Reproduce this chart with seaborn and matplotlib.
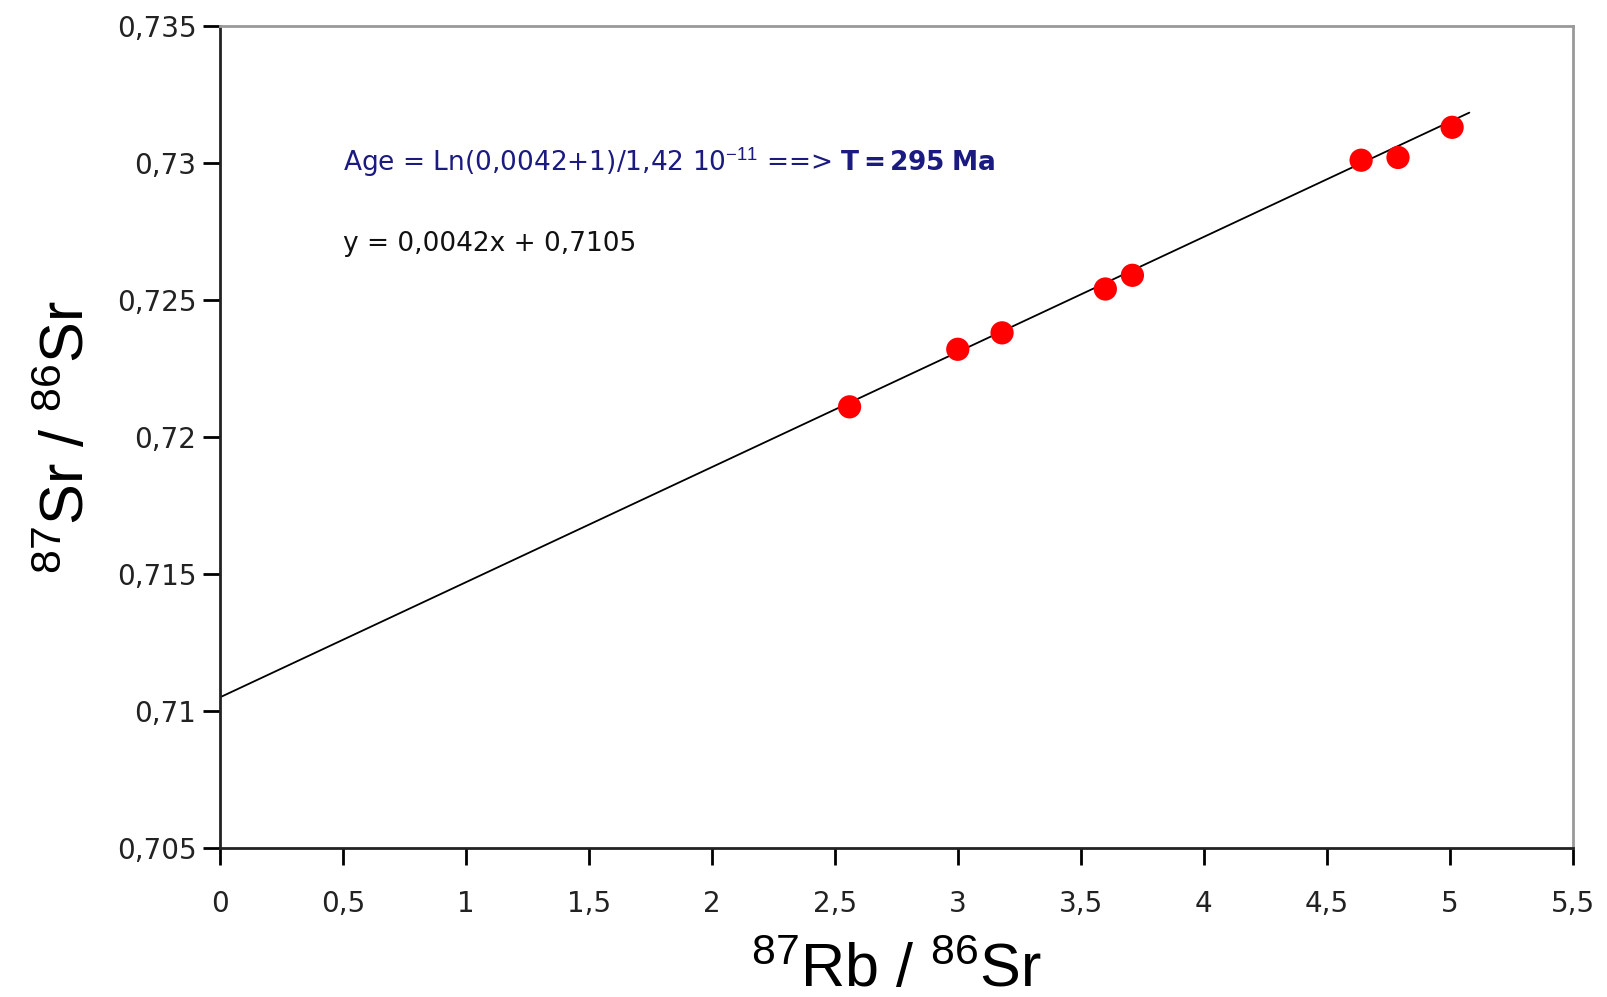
import numpy as np
import pandas as pd
import matplotlib
matplotlib.use("Agg")
import matplotlib.pyplot as plt
import seaborn as sns

# Data
rb_sr = [2.56, 3.00, 3.18, 3.60, 3.71, 4.64, 4.79, 5.01]
sr_sr = [0.7211, 0.7232, 0.7238, 0.7254, 0.7259, 0.7301, 0.7302, 0.7313]
slope = 0.0042
intercept = 0.7105
fit_x = [0.0, 5.08]
x_ticks = [0, 0.5, 1, 1.5, 2, 2.5, 3, 3.5, 4, 4.5, 5, 5.5]
y_ticks = [0.705, 0.71, 0.715, 0.72, 0.725, 0.73, 0.735]

sns.set_theme(style="white")
plt.rcParams['font.family'] = ['DejaVu Sans']
plt.rcParams['mathtext.fontset'] = 'custom'
plt.rcParams['mathtext.rm'] = 'Liberation Sans'
plt.rcParams['mathtext.it'] = 'Liberation Sans:italic'
plt.rcParams['mathtext.bf'] = 'DejaVu Sans:bold'

fig = plt.figure(figsize=(16.08, 9.97), dpi=100)
ax = fig.add_axes([0.1368, 0.1494, 0.978 - 0.1368, 0.974 - 0.1494])

df = pd.DataFrame({"x": rb_sr, "y": sr_sr})
fit = pd.DataFrame({"x": fit_x, "y": [slope * v + intercept for v in fit_x]})

sns.lineplot(data=fit, x="x", y="y", ax=ax, color="black", lw=1.3, zorder=2)
sns.scatterplot(data=df, x="x", y="y", ax=ax, color="#ff0000", s=280,
                edgecolor="none", zorder=3)

ax.set_xlim(0, 5.5)
ax.set_ylim(0.705, 0.735)

def comma(v):
    return ("%g" % v).replace(".", ",")

ax.set_xticks(x_ticks)
ax.set_xticklabels([comma(v) for v in x_ticks])
ax.set_yticks(y_ticks)
ax.set_yticklabels([comma(v) for v in y_ticks])
ax.tick_params(axis="both", which="major", direction="out", length=12, width=2,
               color="black", labelsize=20, labelcolor="#222222",
               left=True, bottom=True)
ax.tick_params(axis="x", pad=18)
ax.tick_params(axis="y", pad=5)

for side in ["left", "bottom"]:
    ax.spines[side].set_color("#222222")
    ax.spines[side].set_linewidth(2)
for side in ["top", "right"]:
    ax.spines[side].set_color("#999999")
    ax.spines[side].set_linewidth(2)

ax.set_xlabel(r"$^{87}$Rb / $^{86}$Sr", fontsize=44, labelpad=18, color="black",
              family=['Liberation Sans', 'DejaVu Sans'])
ax.set_ylabel(r"$^{87}$Sr / $^{86}$Sr", fontsize=44, labelpad=14, color="black",
              family=['Liberation Sans', 'DejaVu Sans'])

ax.text(0.50, 0.72999,
        r"Age = Ln(0,0042+1)/1,42 10$^{-11}$ ==> $\mathbf{T=295\ Ma}$",
        color="#1a1a80", fontsize=19, va="center", ha="left")
ax.text(0.50, 0.72703, "y = 0,0042x + 0,7105",
        color="#111111", fontsize=19, va="center", ha="left")

fig.savefig("out.png", dpi=100)
